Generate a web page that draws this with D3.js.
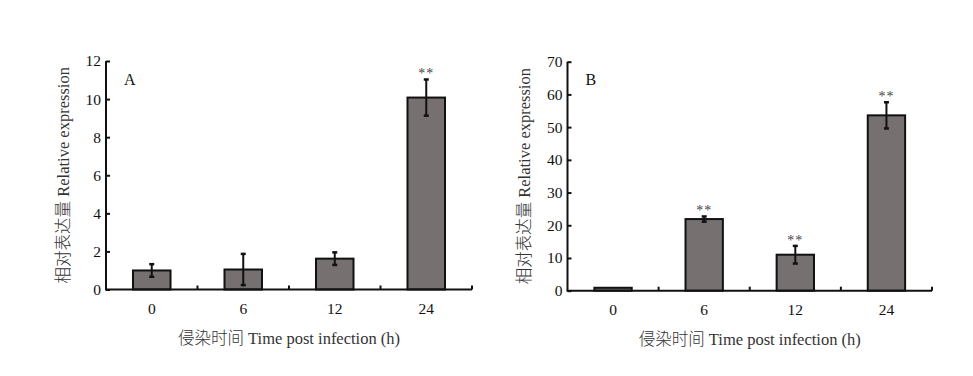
<!DOCTYPE html>
<html><head><meta charset="utf-8">
<script src="https://cdn.jsdelivr.net/npm/d3@7"></script>
<style>body{margin:0;background:#fff}svg{display:block}</style>
</head><body>
<svg id="c" width="973" height="376"></svg>
<script>
const categories = ["0", "6", "12", "24"];
const valuesA = [1.0, 1.05, 1.62, 10.08];
const errorsA = [0.33, 0.82, 0.33, 0.95];
const sigA = ["", "", "", "**"];
const ticksA = [0, 2, 4, 6, 8, 10, 12];
const valuesB = [0.9, 21.9, 11.0, 53.6];
const errorsB = [0, 0.8, 2.7, 4.0];
const sigB = ["", "**", "**", "**"];
const ticksB = [0, 10, 20, 30, 40, 50, 60, 70];
const yTitle = "相对表达量 Relative expression";
const xTitle = "侵染时间 Time post infection (h)";

const svg = d3.select("#c");
const font = "'Liberation Serif', 'Times New Roman', Times, serif";
const cjk = "'Liberation Serif', 'Times New Roman', 'Noto Sans CJK SC', serif";

function panel(o) {
  const g = svg.append("g");
  const x = d3.scaleBand().domain(categories).range([o.x0, o.x1]).paddingInner(0).paddingOuter(0);
  const y = d3.scaleLinear().domain([0, o.ymax]).range([o.y0, o.y1]);
  const bw = x.bandwidth() * 0.41;
  g.selectAll("rect.bar").data(o.values).enter().append("rect")
    .attr("x", (d, i) => x(categories[i]) + x.bandwidth() / 2 - bw / 2)
    .attr("y", d => y(d))
    .attr("width", bw)
    .attr("height", d => y(0) - y(d))
    .attr("fill", "#767070").attr("stroke", "#111").attr("stroke-width", 2);
  o.values.forEach((v, i) => {
    const e = o.errors[i];
    const cx = x(categories[i]) + x.bandwidth() / 2;
    if (e > 0) {
      g.append("line").attr("x1", cx).attr("x2", cx).attr("y1", y(v + e)).attr("y2", y(v - e))
        .attr("stroke", "#111").attr("stroke-width", 2);
      [v + e, v - e].forEach(t => g.append("line").attr("x1", cx - 2.5).attr("x2", cx + 2.5)
        .attr("y1", y(t)).attr("y2", y(t)).attr("stroke", "#111").attr("stroke-width", 2.5));
    }
    if (o.sig[i]) {
      g.append("text").attr("x", cx).attr("y", y(v + e) - 1)
        .attr("text-anchor", "middle").attr("font-family", font).attr("font-size", 14)
        .attr("letter-spacing", 1).attr("fill", "#444").text(o.sig[i]);
    }
  });
  const ya = d3.axisRight(y).tickValues(o.ticks).tickSize(4).tickFormat("");
  const yg = g.append("g").attr("transform", `translate(${o.x0},0)`).call(ya);
  yg.select(".domain").attr("stroke", "#111").attr("stroke-width", 2).attr("d", `M0,${o.y0}V${o.y1}`);
  yg.selectAll(".tick line").attr("stroke", "#111").attr("stroke-width", 2);
  g.selectAll("text.yl").data(o.ticks).enter().append("text")
    .attr("x", o.x0 - 5).attr("y", d => y(d)).attr("dy", "0.35em")
    .attr("text-anchor", "end").attr("font-family", font).attr("font-size", 15.5).attr("fill", "#111").text(d => d);
  const bounds = categories.map(c => x(c) + x.bandwidth());
  const xg = g.append("g");
  xg.append("line").attr("x1", o.x0 - 1).attr("x2", o.x1).attr("y1", o.y0).attr("y2", o.y0)
    .attr("stroke", "#111").attr("stroke-width", 2);
  xg.selectAll("line.t").data(bounds).enter().append("line")
    .attr("x1", d => d).attr("x2", d => d).attr("y1", o.y0).attr("y2", o.y0 - 4)
    .attr("stroke", "#111").attr("stroke-width", 2);
  g.selectAll("text.xl").data(categories).enter().append("text")
    .attr("x", d => x(d) + x.bandwidth() / 2).attr("y", o.y0 + 19)
    .attr("dy", "0.35em").attr("text-anchor", "middle").attr("font-family", font).attr("font-size", 15.5)
    .attr("fill", "#111").text(d => d);
  g.append("text").attr("transform", `translate(${o.x0 - 43},${(o.y0 + o.y1) / 2}) rotate(-90)`)
    .attr("dy", "0.35em").attr("text-anchor", "middle").attr("font-family", cjk).attr("font-size", 16.5)
    .attr("font-weight", 300).attr("fill", "#333").text(yTitle);
  g.append("text").attr("x", (o.x0 + o.x1) / 2).attr("y", o.y0 + 49).attr("dy", "0.35em")
    .attr("text-anchor", "middle").attr("font-family", cjk).attr("font-size", 16.5)
    .attr("font-weight", 300).attr("fill", "#333").text(xTitle);
  g.append("text").attr("x", o.x0 + 18).attr("y", o.y1 + 18).attr("dy", "0.35em")
    .attr("font-family", font).attr("font-size", 16).attr("fill", "#111").text(o.label);
}

panel({x0: 106, x1: 472, y0: 289.5, y1: 61, ymax: 12, values: valuesA, errors: errorsA, sig: sigA, ticks: ticksA, label: "A"});
panel({x0: 567.5, x1: 932, y0: 290.7, y1: 61.7, ymax: 70, values: valuesB, errors: errorsB, sig: sigB, ticks: ticksB, label: "B"});
</script>
</body></html>
